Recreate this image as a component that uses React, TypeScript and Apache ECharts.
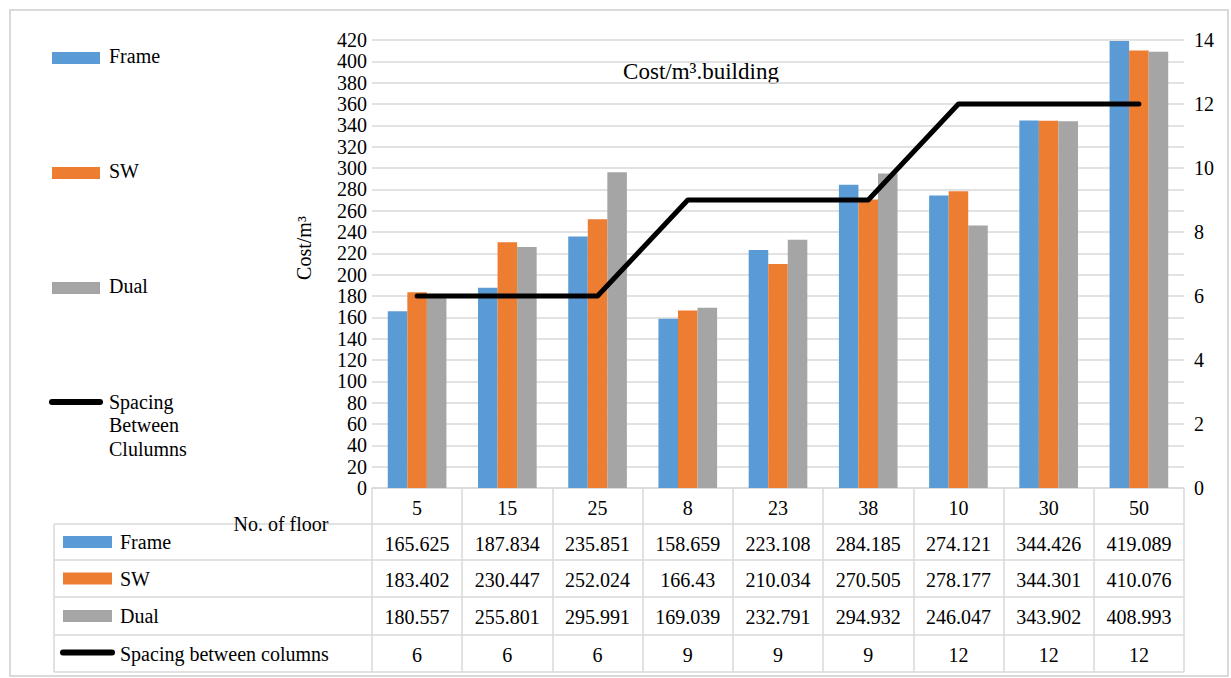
import React, { useEffect, useRef } from "react";
import * as echarts from "echarts";

// ---- data ----
const floors = ["5", "15", "25", "8", "23", "38", "10", "30", "50"];
// bar heights as drawn
const frameValues = [165.625, 187.834, 235.851, 158.659, 223.108, 284.185, 274.121, 344.426, 419.089];
const swValues = [183.402, 230.447, 252.024, 166.43, 210.034, 270.505, 278.177, 344.301, 410.076];
const dualValues = [180.557, 226, 295.991, 169.039, 232.791, 294.932, 246.047, 343.902, 408.993];
const spacingValues = [6, 6, 6, 9, 9, 9, 12, 12, 12];
// data table texts
const frameTable = ["165.625", "187.834", "235.851", "158.659", "223.108", "284.185", "274.121", "344.426", "419.089"];
const swTable = ["183.402", "230.447", "252.024", "166.43", "210.034", "270.505", "278.177", "344.301", "410.076"];
const dualTable = ["180.557", "255.801", "295.991", "169.039", "232.791", "294.932", "246.047", "343.902", "408.993"];
const spacingTable = ["6", "6", "6", "9", "9", "9", "12", "12", "12"];

const seriesNames = ["Frame", "SW", "Dual"];
const colors = ["#5B9BD5", "#ED7D31", "#A5A5A5"];
const leftAxis = { min: 0, max: 420, interval: 20 };
const rightAxis = { min: 0, max: 14, interval: 2 };

// ---- layout ----
const W = 1231;
const H = 678;
const GRID_LEFT = 372;
const GRID_RIGHT_X = 1184;
const GRID_TOP = 40;
const GRID_BOTTOM_Y = 488;
const ROW_LINES = [488, 524, 560, 597, 635, 672];
const TABLE_LEFT = 54;
const FONT = "Liberation Serif";
const GRID_COLOR = "#d9d9d9";

export default function App() {
  const ref = useRef<HTMLDivElement>(null);
  useEffect(() => {
    if (!ref.current) return;
    const chart = echarts.init(ref.current, null, { renderer: "svg" });

    const tableRows = [frameTable, swTable, dualTable, spacingTable];
    const extraAxes = tableRows.map((row, k) => ({
      type: "category",
      gridIndex: 0,
      position: "bottom",
      data: floors,
      offset: ROW_LINES[k + 1] - GRID_BOTTOM_Y,
      axisLine: { show: false },
      axisTick: { show: false },
      splitLine: { show: false },
      axisLabel: {
        interval: 0,
        margin: 10,
        fontSize: 20,
        fontFamily: FONT,
        color: "#000",
        formatter: (_v: string, i: number) => row[i],
      },
    }));

    const graphic: any[] = [];
    // outer border
    graphic.push({
      type: "rect",
      shape: { x: 10, y: 10, width: 1218, height: 666 },
      style: { fill: "none", stroke: GRID_COLOR, lineWidth: 2 },
      silent: true,
    });
    // table horizontal lines
    ROW_LINES.slice(1).forEach((y) => {
      graphic.push({
        type: "line",
        shape: { x1: TABLE_LEFT, y1: y, x2: GRID_RIGHT_X, y2: y },
        style: { stroke: GRID_COLOR, lineWidth: 1.5 },
      });
    });
    graphic.push({
      type: "line",
      shape: { x1: TABLE_LEFT, y1: ROW_LINES[1], x2: TABLE_LEFT, y2: ROW_LINES[5] },
      style: { stroke: GRID_COLOR, lineWidth: 1.5 },
    });
    // table legend keys
    const tableNames = ["Frame", "SW", "Dual", "Spacing between columns"];
    tableNames.forEach((name, k) => {
      const cy = (ROW_LINES[k + 1] + ROW_LINES[k + 2]) / 2;
      if (k < 3) {
        graphic.push({
          type: "rect",
          shape: { x: 63, y: cy - 6, width: 49, height: 12 },
          style: { fill: colors[k] },
        });
      } else {
        graphic.push({
          type: "line",
          shape: { x1: 63, y1: cy - 1, x2: 112, y2: cy - 1 },
          style: { stroke: "#000", lineWidth: 6, lineCap: "round" },
        });
      }
      graphic.push({
        type: "text",
        x: 120,
        y: cy,
        style: { text: name, fontSize: 20, fontFamily: FONT, fill: "#000", verticalAlign: "middle", align: "left" },
      });
    });
    // "No. of floor"
    graphic.push({
      type: "text",
      x: 281,
      y: 524,
      z: 10,
      style: { text: "No. of floor", fontSize: 20, fontFamily: FONT, fill: "#000", verticalAlign: "middle", align: "center" },
    });
    // upper-left legend
    const legendY = [58, 173, 288];
    seriesNames.forEach((name, k) => {
      graphic.push({
        type: "rect",
        shape: { x: 52, y: legendY[k] - 6, width: 48, height: 12 },
        style: { fill: colors[k] },
      });
      graphic.push({
        type: "text",
        x: 109,
        y: legendY[k] - 2,
        style: { text: name, fontSize: 20, fontFamily: FONT, fill: "#000", verticalAlign: "middle", align: "left" },
      });
    });
    graphic.push({
      type: "line",
      shape: { x1: 52, y1: 402, x2: 100, y2: 402 },
      style: { stroke: "#000", lineWidth: 6, lineCap: "round" },
    });
    graphic.push({
      type: "text",
      x: 109,
      y: 390,
      style: {
        text: "Spacing\nBetween\nClulumns",
        fontSize: 20,
        lineHeight: 23.5,
        fontFamily: FONT,
        fill: "#000",
        verticalAlign: "top",
        align: "left",
      },
    });
    // chart title
    graphic.push({
      type: "text",
      x: 701,
      y: 71,
      style: { text: "Cost/m³.building", fontSize: 23, fontFamily: FONT, fill: "#000", verticalAlign: "middle", align: "center" },
    });
    // y-axis title
    graphic.push({
      type: "text",
      x: 304,
      y: 248,
      rotation: Math.PI / 2,
      style: { text: "Cost/m³", fontSize: 20, fontFamily: FONT, fill: "#000", verticalAlign: "middle", align: "center" },
    });

    chart.setOption({
      animation: false,
      backgroundColor: "#fff",
      textStyle: { fontFamily: FONT },
      grid: {
        left: GRID_LEFT,
        right: W - GRID_RIGHT_X,
        top: GRID_TOP,
        bottom: H - GRID_BOTTOM_Y,
        containLabel: false,
        outerBoundsMode: "none",
      },
      xAxis: [
        {
          type: "category",
          data: floors,
          boundaryGap: true,
          axisLine: { show: true, lineStyle: { color: GRID_COLOR, width: 1.5 } },
          axisTick: {
            show: true,
            length: ROW_LINES[5] - GRID_BOTTOM_Y,
            lineStyle: { color: GRID_COLOR, width: 1.5 },
          },
          axisLabel: { interval: 0, margin: 10, fontSize: 20, fontFamily: FONT, color: "#000" },
          splitLine: { show: false },
        },
        ...extraAxes,
      ],
      yAxis: [
        {
          type: "value",
          min: leftAxis.min,
          max: leftAxis.max,
          interval: leftAxis.interval,
          axisLine: { show: false },
          axisTick: { show: false },
          axisLabel: { margin: 5, fontSize: 20, fontFamily: FONT, color: "#000" },
          splitLine: { show: true, lineStyle: { color: GRID_COLOR, width: 1.5 } },
        },
        {
          type: "value",
          position: "right",
          min: rightAxis.min,
          max: rightAxis.max,
          interval: rightAxis.interval,
          axisLine: { show: false },
          axisTick: { show: false },
          axisLabel: { margin: 10, fontSize: 20, fontFamily: FONT, color: "#000" },
          splitLine: { show: false },
        },
      ],
      series: [
        ...[frameValues, swValues, dualValues].map((vals, k) => ({
          name: seriesNames[k],
          type: "bar",
          xAxisIndex: 0,
          yAxisIndex: 0,
          data: vals,
          barGap: "0%",
          barCategoryGap: "35%",
          itemStyle: { color: colors[k] },
        })),
        {
          name: "Spacing Between Clulumns",
          type: "line",
          xAxisIndex: 0,
          yAxisIndex: 1,
          data: spacingValues,
          symbol: "none",
          z: 5,
          lineStyle: { color: "#000", width: 5, cap: "round", join: "round" },
        },
      ],
      graphic,
    });
    return () => chart.dispose();
  }, []);
  return (
    <div
      ref={ref}
      style={{ position: "absolute", left: 0, top: 0, width: W, height: H }}
    />
  );
}
